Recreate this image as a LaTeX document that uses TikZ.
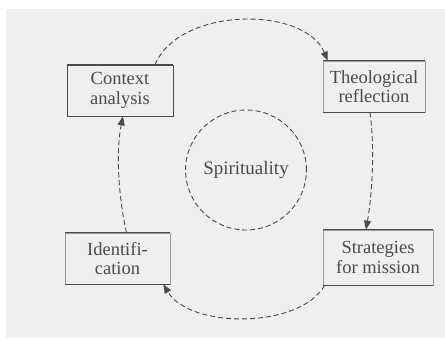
\documentclass[tikz,border=0pt]{standalone}
\usepackage{fontspec}
\setmainfont{Liberation Serif}
\usetikzlibrary{arrows.meta,shapes.geometric}
\definecolor{bggrey}{HTML}{EFEFEF}
\definecolor{inkgrey}{HTML}{4A4A4A}
\definecolor{sidegrey}{HTML}{9A9A9A}
\tikzset{
  stagebox/.style={draw=sidegrey, line width=0.7pt, align=center, inner sep=0pt,
    font=\fontsize{18.5}{19.5}\selectfont, text=inkgrey},
  edgeline/.style={draw=inkgrey, line width=1.1pt},
  cycleflow/.style={draw=inkgrey, line width=0.9pt, dash pattern=on 5pt off 3pt,
    -{Triangle[length=9pt,width=7pt]}},
}
\begin{document}
\begin{tikzpicture}[x=1pt,y=-1pt]
\useasboundingbox (0,0) rectangle (445,340);
\fill[white] (0,0) rectangle (445,340);
\fill[bggrey] (6,9) rectangle (445,338);

\node[stagebox, minimum width=106pt, minimum height=51pt, draw=inkgrey] (ctx) at (120,90.5) {Context\\analysis};
\node[stagebox, minimum width=102pt, minimum height=51pt] (theo) at (374,86.5) {Theological\\reflection};
\node[stagebox, minimum width=110pt, minimum height=55pt] (strat) at (378,257.5) {Strategies\\for mission};
\node[stagebox, minimum width=105pt, minimum height=51pt] (ident) at (117.5,258.5) {Identifi-\\cation};

\draw[edgeline] (ctx.north west) -- (ctx.north east) (ctx.south west) -- (ctx.south east);
\draw[edgeline] (theo.north west) -- (theo.north east) (theo.south west) -- (theo.south east);
\draw[edgeline] (strat.north west) -- (strat.north east) (strat.south west) -- (strat.south east);
\draw[edgeline] (ident.north west) -- (ident.north east) (ident.south west) -- (ident.south east);

\node[ellipse, draw=inkgrey, line width=0.9pt, dash pattern=on 5pt off 3pt,
  minimum width=102pt, minimum height=120pt, inner sep=0pt,
  font=\fontsize{19}{20}\selectfont, text=inkgrey] (spir) at (246,170) {Spirituality};

\draw[cycleflow] ([xshift=35pt]ctx.north) .. controls (180,6) and (305,6) .. ([xshift=5pt]theo.north west);
\draw[cycleflow] ([xshift=-4pt]theo.south) .. controls (375,150) and (372,195) .. ([xshift=-12pt]strat.north);
\draw[cycleflow] ([xshift=2pt]strat.south west) .. controls (300,329) and (190,329) .. ([xshift=-7pt]ident.south east);
\draw[cycleflow] ([xshift=9pt]ident.north) .. controls (118,195) and (116,150) .. ([xshift=3pt]ctx.south);
\end{tikzpicture}
\end{document}
